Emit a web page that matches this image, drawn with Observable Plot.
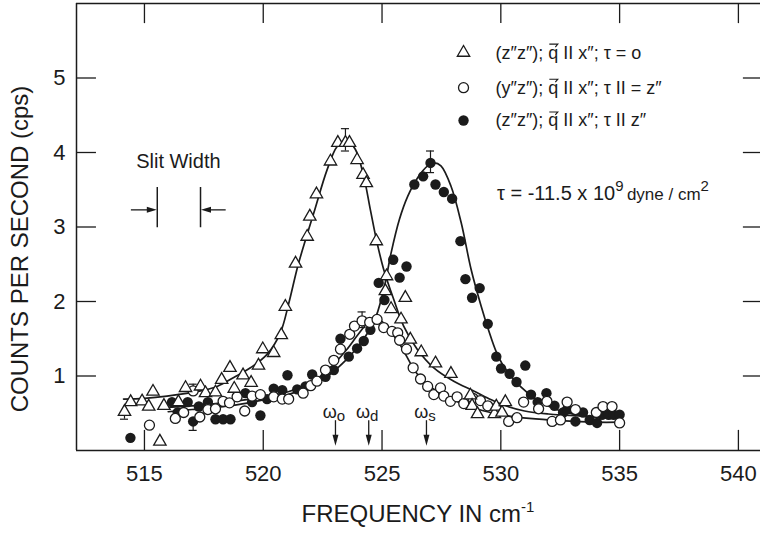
<!DOCTYPE html>
<html><head><meta charset="utf-8">
<script src="https://cdn.jsdelivr.net/npm/d3@7"></script>
<script src="https://cdn.jsdelivr.net/npm/@observablehq/plot@0.6"></script>
<style>
html,body{margin:0;padding:0;background:#fff;}
#chart{width:760px;height:536px;overflow:hidden;}
svg{display:block;}
</style></head><body><div id="chart"></div>
<script>
// ---- data: (z''z''); q || x''; tau = 0  (open triangles)
const triFreq = [514.16,514.42,514.90,515.18,515.36,515.65,515.82,516.43,516.73,517.36,517.57,517.99,518.25,518.60,518.78,519.15,519.49,519.80,519.98,520.44,520.76,520.93,521.36,521.85,521.96,522.24,522.83,523.14,523.46,523.63,523.95,524.20,524.34,524.76,525.14,525.19,525.38,525.80,525.98,526.19,526.65,527.25,527.90,528.72,528.79,529.02,529.73,529.81,530.05,530.19];
const triCps  = [0.52,0.65,0.66,0.59,0.79,0.12,0.60,0.65,0.84,0.86,0.77,0.78,0.95,1.11,0.83,1.01,0.91,1.14,1.36,1.31,1.55,1.93,2.51,2.87,3.14,3.44,3.88,4.13,4.13,4.13,3.90,3.70,3.59,2.81,2.14,2.34,1.90,1.76,2.05,1.49,1.32,1.17,1.03,0.74,0.60,0.49,0.49,0.59,0.51,0.65];
// (y''z''); q || x''; tau || z''  (open circles)
const openFreq = [515.21,516.30,516.65,517.05,517.33,517.67,517.99,518.31,518.58,518.90,519.22,519.53,519.88,520.44,520.80,521.07,521.68,522.00,522.26,522.62,522.97,523.25,523.64,523.84,524.16,524.48,524.79,525.07,525.42,525.66,525.74,526.03,526.31,526.62,526.92,527.18,527.46,527.60,527.88,528.16,528.44,528.83,529.14,529.45,530.33,530.68,530.96,531.59,531.94,532.16,532.51,532.79,533.14,534.02,534.30,534.68,535.00];
const openCps  = [0.34,0.43,0.51,0.80,0.45,0.55,0.56,0.66,0.64,0.72,0.53,0.73,0.75,0.72,0.69,0.69,0.77,0.87,0.93,1.08,1.21,1.36,1.56,1.67,1.74,1.72,1.76,1.65,1.60,1.58,1.48,1.36,1.11,0.96,0.86,0.75,0.84,0.73,0.66,0.72,0.63,0.70,0.67,0.60,0.39,0.44,0.65,0.56,0.66,0.39,0.41,0.65,0.55,0.51,0.59,0.59,0.37];
// (z''z''); q || x''; tau || z''  (filled circles)
const fillFreq = [514.41,516.16,516.40,516.82,517.05,517.29,517.67,517.99,518.31,518.62,519.25,519.53,519.88,520.16,520.44,520.80,521.02,521.43,521.78,522.06,522.62,522.97,523.25,523.60,523.95,524.23,524.51,524.86,525.10,525.47,525.74,526.03,526.36,526.73,527.04,527.25,527.60,527.95,528.30,528.51,528.79,529.11,529.45,529.81,530.01,530.37,530.66,531.03,531.27,531.55,531.92,532.26,532.62,532.79,533.14,533.46,533.74,534.05,534.26,534.54,534.75,535.00];
const fillCps  = [0.17,0.65,0.51,0.65,0.39,0.59,0.65,0.42,0.42,0.42,0.77,0.65,0.47,0.69,0.83,0.81,1.01,0.82,0.86,1.02,0.99,1.08,1.50,1.26,1.37,1.47,1.62,2.25,2.02,2.56,2.32,2.47,3.57,3.68,3.86,3.57,3.47,3.38,2.81,2.30,2.05,2.18,1.70,1.26,1.10,1.03,0.92,1.14,0.75,0.65,0.77,0.60,0.51,0.55,0.39,0.51,0.41,0.37,0.48,0.48,0.48,0.48];

// fitted curves
const fitTriFreq = [514.12,515.00,515.95,517.36,518.06,518.76,519.46,520.16,520.72,521.07,521.45,521.80,522.13,522.69,523.11,523.50,523.88,524.23,524.51,524.79,525.07,525.49,525.91,526.48,527.18,528.02,528.86,529.60,530.20,531.00,532.00,533.50,535.00];
const fitTriCps  = [0.69,0.70,0.73,0.80,0.86,0.98,1.11,1.29,1.58,1.97,2.47,2.85,3.19,3.77,4.08,4.17,4.04,3.68,3.23,2.79,2.43,2.03,1.67,1.36,1.11,0.93,0.80,0.68,0.60,0.53,0.49,0.46,0.44];
const fitOpenFreq = [516.00,517.00,518.00,519.00,520.00,520.72,521.50,522.10,522.80,523.50,524.00,524.40,524.80,525.10,525.40,525.80,526.06,526.40,526.76,527.10,527.46,528.00,528.58,529.30,530.20,531.20,532.50,534.00,535.00];
const fitOpenCps  = [0.58,0.60,0.63,0.67,0.72,0.76,0.84,0.93,1.10,1.35,1.56,1.71,1.77,1.70,1.58,1.40,1.25,1.06,0.93,0.84,0.77,0.68,0.60,0.53,0.47,0.43,0.40,0.38,0.38];
const fitFillFreq = [516.00,517.00,518.00,519.00,520.00,520.72,521.50,522.10,522.80,523.50,524.00,524.40,524.75,525.10,525.38,525.73,526.08,526.50,526.92,527.20,527.48,527.90,528.33,528.75,529.17,529.50,529.80,530.12,530.82,531.52,532.51,533.63,535.03];
const fitFillCps  = [0.52,0.55,0.58,0.62,0.68,0.72,0.80,0.88,1.02,1.22,1.40,1.58,1.80,2.20,2.65,3.10,3.41,3.66,3.82,3.86,3.82,3.55,3.06,2.43,1.94,1.60,1.33,1.13,0.86,0.68,0.53,0.46,0.44];

// error bars
const errFreq = [514.16,517.05,517.05,523.46,524.16,527.04];
const errLo   = [0.42,0.80,0.27,4.02,1.65,3.73];
const errHi   = [0.52,0.89,0.39,4.32,1.86,4.02];

// characteristic frequencies
const markFreq = [523.04,524.44,526.87];
const markSub  = ["o","d","s"];

const xTicks = [515,520,525,530,535,540];
const yTicks = [1,2,3,4,5];
const xDomain = [512.14,540.93];
const yDomain = [0,6];

const legendText = [
  ["(z\u2033z\u2033); ","q"," II x\u2033; \u03C4 = o"],
  ["(y\u2033z\u2033); ","q"," II x\u2033; \u03C4 II = z\u2033"],
  ["(z\u2033z\u2033); ","q"," II x\u2033; \u03C4 II z\u2033"]
];

const INK = "#1b1b1b";
const FONT = "'Liberation Sans', Arial, Helvetica, sans-serif";

const tri = triFreq.map((f,i)=>({f, c: triCps[i]}));
const opn = openFreq.map((f,i)=>({f, c: openCps[i]}));
const fil = fillFreq.map((f,i)=>({f, c: fillCps[i]}));
const fT = fitTriFreq.map((f,i)=>({f, c: fitTriCps[i]}));
const fO = fitOpenFreq.map((f,i)=>({f, c: fitOpenCps[i]}));
const fF = fitFillFreq.map((f,i)=>({f, c: fitFillCps[i]}));
const err = errFreq.map((f,i)=>({f, lo: errLo[i], hi: errHi[i]}));

const arrowDown = {draw(ctx){ctx.moveTo(0,0);ctx.lineTo(-3,-11);ctx.lineTo(3,-11);ctx.closePath();}};
const arrowLeft = {draw(ctx){ctx.moveTo(0,0);ctx.lineTo(10,-3);ctx.lineTo(10,3);ctx.closePath();}};
const arrowRight = {draw(ctx){ctx.moveTo(0,0);ctx.lineTo(-10,-3);ctx.lineTo(-10,3);ctx.closePath();}};

// slit width annotation (data units)
const slitLeft = 515.54, slitRight = 517.36, slitLo = 2.99, slitHi = 3.53, slitY = 3.23;

const capW = 0.17;
const plot = Plot.plot({
  width: 760, height: 536,
  marginLeft: 76, marginRight: 0, marginTop: 3, marginBottom: 86,
  x: {domain: xDomain},
  y: {domain: yDomain},
  style: {fontFamily: FONT, color: INK, background: "#fff"},
  marks: [
    Plot.ruleX([xDomain[0]], {stroke: INK, strokeWidth: 1.5}),
    Plot.ruleY([0, 6], {stroke: INK, strokeWidth: 1.5}),
    Plot.ruleX(xTicks, {y1: 0, y2: 0.27, stroke: INK, strokeWidth: 1.3}),
    Plot.ruleX(xTicks, {y1: 6, y2: 5.73, stroke: INK, strokeWidth: 1.3}),
    Plot.ruleY(yTicks, {x1: xDomain[0], x2: xDomain[0] + 0.84, stroke: INK, strokeWidth: 1.3}),
    Plot.ruleY(yTicks, {x1: 540.21, x2: xDomain[1], stroke: INK, strokeWidth: 1.3}),
    Plot.axisX(xTicks, {tickSize: 0, tickPadding: 15, fontSize: 22, label: null, fill: INK, tickFormat: d => String(d)}),
    Plot.axisY(yTicks, {tickSize: 0, tickPadding: 11, fontSize: 22, label: null, fill: INK, tickFormat: d => String(d)}),
    Plot.line(fT, {x: "f", y: "c", curve: "catmull-rom", stroke: INK, strokeWidth: 1.7}),
    Plot.line(fO, {x: "f", y: "c", curve: "catmull-rom", stroke: INK, strokeWidth: 1.7}),
    Plot.line(fF, {x: "f", y: "c", curve: "catmull-rom", stroke: INK, strokeWidth: 1.7}),
    Plot.ruleX(err, {x: "f", y1: "lo", y2: "hi", stroke: INK, strokeWidth: 1.2}),
    Plot.ruleY(err, {y: "hi", x1: d => d.f - capW, x2: d => d.f + capW, stroke: INK, strokeWidth: 1.2}),
    Plot.ruleY(err, {y: "lo", x1: d => d.f - capW, x2: d => d.f + capW, stroke: INK, strokeWidth: 1.2}),
    Plot.dot(fil, {x: "f", y: "c", r: 5.2, fill: INK, stroke: "none"}),
    Plot.dot(opn, {x: "f", y: "c", r: 5, fill: "#fff", stroke: INK, strokeWidth: 1.3}),
    Plot.dot(tri, {x: "f", y: "c", symbol: "triangle", r: 4.6, fill: "#fff", stroke: INK, strokeWidth: 1.3}),
    Plot.ruleX(markFreq, {y1: 0.40, y2: 0.12, stroke: INK, strokeWidth: 1.3}),
    Plot.dot(markFreq, {x: d => d, y: 0.065, symbol: arrowDown, fill: INK, stroke: "none"}),
    Plot.ruleX([slitLeft, slitRight], {y1: slitLo, y2: slitHi, stroke: INK, strokeWidth: 1.5}),
    Plot.ruleY([slitY], {x1: 514.45, x2: slitLeft - 0.3, stroke: INK, strokeWidth: 1.3}),
    Plot.ruleY([slitY], {x1: slitRight + 0.3, x2: 518.44, stroke: INK, strokeWidth: 1.3}),
    Plot.dot([slitLeft - 0.02], {x: d => d, y: slitY, symbol: arrowRight, fill: INK, stroke: "none"}),
    Plot.dot([slitRight + 0.02], {x: d => d, y: slitY, symbol: arrowLeft, fill: INK, stroke: "none"}),
    Plot.dot([5.34], {x: 528.43, y: d => d, symbol: "triangle", r: 4.6, fill: "#fff", stroke: INK, strokeWidth: 1.3}),
    Plot.dot([4.87], {x: 528.43, y: d => d, r: 5, fill: "#fff", stroke: INK, strokeWidth: 1.3}),
    Plot.dot([4.43], {x: 528.43, y: d => d, r: 5.2, fill: INK, stroke: "none"})
  ]
});
document.getElementById("chart").appendChild(plot);

const sx = plot.scale("x"), sy = plot.scale("y");
const X = v => sx.apply ? sx.apply(v) : d3.scaleLinear(xDomain,[76,760])(v);
const Y = v => sy.apply ? sy.apply(v) : d3.scaleLinear(yDomain,[450,3])(v);
const svg = d3.select(plot);
const g = svg.append("g").attr("fill", INK).attr("text-anchor", "start").style("font-family", FONT);

// axis titles
const xt = g.append("text").attr("x", 418).attr("y", 522).attr("text-anchor","middle").style("font-size","24px");
xt.append("tspan").text("FREQUENCY IN cm");
xt.append("tspan").attr("dy", -10).style("font-size","15px").text("-1");
g.append("text").attr("transform","translate(28,249) rotate(-90)").attr("text-anchor","middle")
  .style("font-size","24px").text("COUNTS PER SECOND (cps)");

// legend text
const rows = [5.34, 4.87, 4.43];
legendText.forEach((parts, i) => {
  const t = g.append("text").attr("x", X(529.8)).attr("y", Y(rows[i]) + 6.5).attr("text-anchor","start").style("font-size","18px");
  t.append("tspan").text(parts[0]);
  t.append("tspan").text(parts[1]);
  t.append("tspan").text(parts[2]);
  const node = t.node();
  const k = node.textContent.indexOf("q");
  const s = node.getStartPositionOfChar(k), e = node.getEndPositionOfChar(k);
  const yy = s.y - 14.5;
  g.append("path").attr("d", `M${s.x + 1},${yy}H${e.x - 0.5}l-2.5,3`).attr("fill","none").attr("stroke",INK).attr("stroke-width",1.1);
});

// tau annotation
const tau = g.append("text").attr("x", X(529.86)).attr("y", Y(3.45) + 7).attr("text-anchor","start").style("font-size","20px");
tau.append("tspan").text("\u03C4 = -11.5 x 10");
tau.append("tspan").attr("dy", -9).style("font-size","15px").text("9");
tau.append("tspan").attr("dy", 9).style("font-size","17px").text("\u2009dyne / cm");
tau.append("tspan").attr("dy", -9).style("font-size","15px").text("2");

// slit width label
g.append("text").attr("x", X((slitLeft+slitRight)/2)).attr("y", Y(3.88) + 7).attr("text-anchor","middle")
  .style("font-size","20px").text("Slit Width");

// omega labels
markFreq.forEach((f, i) => {
  const t = g.append("text").attr("x", X(f) - 1).attr("y", Y(0.43)).attr("text-anchor","middle").style("font-size","18px");
  t.append("tspan").text("\u03C9");
  t.append("tspan").attr("dy", 3).style("font-size","15px").text(markSub[i]);
});
</script>
</body></html>
